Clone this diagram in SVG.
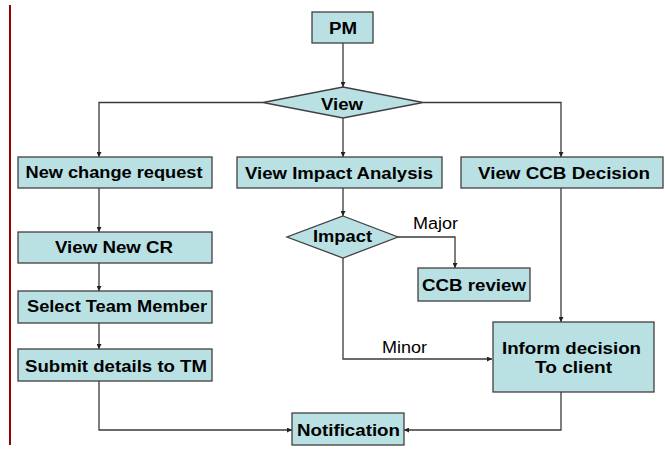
<svg xmlns="http://www.w3.org/2000/svg" width="665" height="452" viewBox="0 0 665 452">
  <defs>
    <marker id="arrow" viewBox="0 0 8 8" refX="8" refY="4" markerWidth="5" markerHeight="5" orient="auto" markerUnits="userSpaceOnUse">
      <path d="M0,0 L8,4 L0,8 Z" fill="#222"/>
    </marker>
    <style>
      .box { fill: #b9e0e3; stroke: #404040; stroke-width: 1.3; }
      .lbl { font-family: "Liberation Sans", Arial, sans-serif; font-weight: bold; font-size: 16px; fill: #000; text-anchor: middle; }
      .edge { font-family: "Liberation Sans", Arial, sans-serif; font-size: 16px; fill: #000; text-anchor: middle; }
      .conn { fill: none; stroke: #3a3a3a; stroke-width: 1.3; }
    </style>
  </defs>
  <rect width="665" height="452" fill="#ffffff"/>

  <!-- margin rule -->
  <line x1="10" y1="5" x2="10" y2="445" stroke="#990000" stroke-width="2"/>

  <!-- connectors -->
  <g id="connectors">
    <path class="conn" d="M343,43 V87" marker-end="url(#arrow)"/>
    <path class="conn" d="M263,102.5 H99 V157" marker-end="url(#arrow)"/>
    <path class="conn" d="M343,118 V157" marker-end="url(#arrow)"/>
    <path class="conn" d="M423,102.5 H561 V157" marker-end="url(#arrow)"/>
    <path class="conn" d="M99,188 V232" marker-end="url(#arrow)"/>
    <path class="conn" d="M99,263 V291" marker-end="url(#arrow)"/>
    <path class="conn" d="M99,323 V349" marker-end="url(#arrow)"/>
    <path class="conn" d="M99,381 V430 H292" marker-end="url(#arrow)"/>
    <path class="conn" d="M343,188 V216" marker-end="url(#arrow)"/>
    <path class="conn" d="M398,237 H455 V268" marker-end="url(#arrow)"/>
    <path class="conn" d="M343,258 V359 H492" marker-end="url(#arrow)"/>
    <path class="conn" d="M561,188 V322" marker-end="url(#arrow)"/>
    <path class="conn" d="M561,392 V430 H404" marker-end="url(#arrow)"/>
    <text class="edge" x="435.5" y="229" textLength="45" lengthAdjust="spacingAndGlyphs">Major</text>
    <text class="edge" x="404.5" y="353" textLength="45" lengthAdjust="spacingAndGlyphs">Minor</text>
  </g>

  <g id="pm">
    <rect class="box" x="312" y="12" width="61" height="31"/>
    <text class="lbl" x="343" y="34" textLength="28" lengthAdjust="spacingAndGlyphs">PM</text>
  </g>
  <g id="view">
    <polygon class="box" points="343,87 423,102.5 343,118 263,102.5"/>
    <text class="lbl" x="342" y="110" textLength="42" lengthAdjust="spacingAndGlyphs">View</text>
  </g>
  <g id="new-change-request">
    <rect class="box" x="18" y="157" width="194" height="31"/>
    <text class="lbl" x="114" y="178" textLength="177" lengthAdjust="spacingAndGlyphs">New change request</text>
  </g>
  <g id="view-impact-analysis">
    <rect class="box" x="237" y="157" width="205" height="31"/>
    <text class="lbl" x="339" y="179" textLength="188" lengthAdjust="spacingAndGlyphs">View Impact Analysis</text>
  </g>
  <g id="view-ccb-decision">
    <rect class="box" x="461" y="157" width="202" height="31"/>
    <text class="lbl" x="564" y="179" textLength="172" lengthAdjust="spacingAndGlyphs">View CCB Decision</text>
  </g>
  <g id="view-new-cr">
    <rect class="box" x="18" y="232" width="194" height="31"/>
    <text class="lbl" x="114" y="253" textLength="118" lengthAdjust="spacingAndGlyphs">View New CR</text>
  </g>
  <g id="impact">
    <polygon class="box" points="343,216 398,237 343,258 287,237"/>
    <text class="lbl" x="342.5" y="242" textLength="59" lengthAdjust="spacingAndGlyphs">Impact</text>
  </g>
  <g id="ccb-review">
    <rect class="box" x="418" y="268" width="112" height="33"/>
    <text class="lbl" x="474" y="291" textLength="104" lengthAdjust="spacingAndGlyphs">CCB review</text>
  </g>
  <g id="select-team-member">
    <rect class="box" x="18" y="291" width="194" height="32"/>
    <text class="lbl" x="117" y="312" textLength="180" lengthAdjust="spacingAndGlyphs">Select Team Member</text>
  </g>
  <g id="submit-details">
    <rect class="box" x="18" y="349" width="194" height="32"/>
    <text class="lbl" x="116" y="372" textLength="182" lengthAdjust="spacingAndGlyphs">Submit details to TM</text>
  </g>
  <g id="inform-decision">
    <rect class="box" x="493" y="322" width="161" height="70"/>
    <text class="lbl" x="571.5" y="354" textLength="139" lengthAdjust="spacingAndGlyphs">Inform decision</text>
    <text class="lbl" x="573.5" y="373" textLength="77" lengthAdjust="spacingAndGlyphs">To client</text>
  </g>
  <g id="notification">
    <rect class="box" x="292" y="413" width="112" height="32"/>
    <text class="lbl" x="348.5" y="436" textLength="103" lengthAdjust="spacingAndGlyphs">Notification</text>
  </g>
</svg>
